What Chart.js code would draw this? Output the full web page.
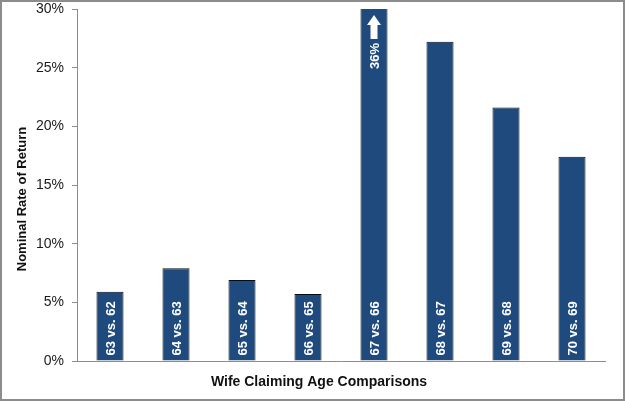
<!DOCTYPE html>
<html>
<head>
<meta charset="utf-8">
<script src="https://cdn.jsdelivr.net/npm/chart.js@4"></script>
<style>
  html, body { margin: 0; padding: 0; background: #fff; }
  #wrap { width: 625px; height: 401px; position: relative; }
</style>
</head>
<body>
<div id="wrap"><canvas id="chart"></canvas></div>
<script>
// chart data
const categories = ['63 vs. 62', '64 vs. 63', '65 vs. 64', '66 vs. 65', '67 vs. 66', '68 vs. 67', '69 vs. 68', '70 vs. 69'];
const returns = [5.9, 7.9, 6.9, 5.7, 36, 27.2, 21.6, 17.4];
const yTicks = [0, 5, 10, 15, 20, 25, 30];
const yMax = 30;
const yTitle = 'Nominal Rate of Return';
const xTitle = 'Wife Claiming Age Comparisons';

const FONT = "'Liberation Sans', Arial, sans-serif";

// labels drawn inside the bars, plus the arrow for the clipped bar
const barLabels = {
  id: 'barLabels',
  afterDatasetsDraw(chart) {
    const ctx = chart.ctx;
    const meta = chart.getDatasetMeta(0);
    const area = chart.chartArea;
    ctx.save();
    ctx.fillStyle = '#ffffff';
    ctx.font = 'bold 13px ' + FONT;
    meta.data.forEach((bar, i) => {
      ctx.save();
      ctx.translate(bar.x, bar.base - 5);
      ctx.rotate(-Math.PI / 2);
      ctx.textAlign = 'left';
      ctx.textBaseline = 'middle';
      ctx.fillText(categories[i], 0, 1);
      ctx.restore();

      if (returns[i] > yMax) {
        // up arrow
        const x = bar.x, top = area.top + 6;
        ctx.beginPath();
        ctx.moveTo(x, top);
        ctx.lineTo(x + 7, top + 10);
        ctx.lineTo(x + 3.5, top + 10);
        ctx.lineTo(x + 3.5, top + 24);
        ctx.lineTo(x - 3.5, top + 24);
        ctx.lineTo(x - 3.5, top + 10);
        ctx.lineTo(x - 7, top + 10);
        ctx.closePath();
        ctx.fill();
        // real value
        ctx.save();
        ctx.translate(x, top + 28);
        ctx.rotate(-Math.PI / 2);
        ctx.textAlign = 'right';
        ctx.textBaseline = 'middle';
        ctx.fillText(returns[i] + '%', 0, 1);
        ctx.restore();
      }
    });
    ctx.restore();
  }
};

// axis titles are a bit off the plot centre, so draw them by hand
const axisTitles = {
  id: 'axisTitles',
  afterDraw(chart) {
    const ctx = chart.ctx;
    ctx.save();
    ctx.fillStyle = '#111';
    ctx.textAlign = 'center';
    ctx.textBaseline = 'middle';
    ctx.font = 'bold 14px ' + FONT;
    ctx.fillText(xTitle, 319, 382);
    ctx.translate(22, 199);
    ctx.rotate(-Math.PI / 2);
    ctx.font = 'bold 13px ' + FONT;
    ctx.fillText(yTitle, 0, 0);
    ctx.restore();
  }
};

// gray frame round the whole picture
const frame = {
  id: 'frame',
  afterDraw(chart) {
    const ctx = chart.ctx;
    ctx.save();
    ctx.strokeStyle = '#8c8c8c';
    ctx.lineWidth = 2;
    ctx.strokeRect(1, 1, chart.width - 2, chart.height - 2);
    ctx.restore();
  }
};

new Chart(document.getElementById('chart'), {
  type: 'bar',
  data: {
    labels: categories,
    datasets: [{
      data: returns,
      backgroundColor: '#1f4a7e',
      borderColor: '#050d18',
      borderWidth: 1,
      borderSkipped: 'bottom',
      categoryPercentage: 1,
      barPercentage: 0.41
    }]
  },
  options: {
    responsive: true,
    maintainAspectRatio: false,
    animation: false,
    layout: { padding: { top: 9, right: 20, left: 0, bottom: 0 } },
    plugins: {
      legend: { display: false },
      tooltip: { enabled: false }
    },
    scales: {
      x: {
        grid: { display: false },
        border: { display: true, color: '#8c8c8c', width: 1 },
        ticks: { display: false },
        afterFit(scale) { scale.height = 40; }
      },
      y: {
        min: 0,
        max: yMax,
        afterBuildTicks(scale) { scale.ticks = yTicks.map(v => ({ value: v })); },
        grid: { drawOnChartArea: false, drawTicks: true, tickLength: 5, color: '#8c8c8c' },
        border: { display: true, color: '#8c8c8c', width: 1 },
        ticks: {
          padding: 8,
          color: '#1a1a1a',
          font: { family: FONT, size: 14 },
          callback: v => v + '%'
        },
        afterFit(scale) {
          scale.width = 77;
          scale.paddingTop = 0;
          scale.paddingBottom = 0;
        }
      }
    }
  },
  plugins: [barLabels, axisTitles, frame]
});
</script>
</body>
</html>
